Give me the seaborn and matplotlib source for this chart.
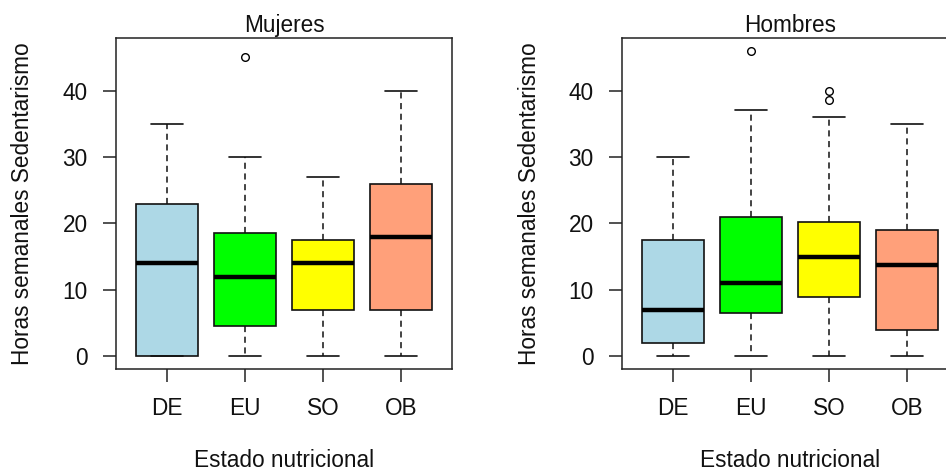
import matplotlib
matplotlib.use("Agg")
import matplotlib.pyplot as plt
import numpy as np
import pandas as pd
import seaborn as sns

# Nutritional status categories and box fills
categories = ["DE", "EU", "SO", "OB"]
colors = ["#ADD8E6", "#00FF00", "#FFFF00", "#FFA07A"]
yticks = [0, 10, 20, 30, 40]

# Weekly sedentary hours, five-number summaries per group -- women
muj_lo = [0, 0, 0, 0]
muj_q1 = [0, 4.5, 7, 7]
muj_med = [14, 12, 14, 18]
muj_q3 = [23, 18.5, 17.5, 26]
muj_hi = [35, 30, 27, 40]
muj_out = [[], [45], [], []]

# Weekly sedentary hours -- men
hom_lo = [0, 0, 0, 0]
hom_q1 = [2, 6.5, 9, 4]
hom_med = [7, 11, 15, 13.75]
hom_q3 = [17.5, 21, 20.2, 19]
hom_hi = [30, 37, 36, 35]
hom_out = [[], [46], [38.5, 40], []]


def long_table(lo, q1, med, q3, hi, out):
    """Observations whose linear-interpolated quartiles and Tukey whiskers
    reproduce the given summaries exactly."""
    rows = []
    for cat, a, b, c, d, e, o in zip(categories, lo, q1, med, q3, hi, out):
        k = len(o) + 1
        vals = [a] + [b] * k + [c] * k + [d] * k + [e] + list(o)
        rows += [(cat, v) for v in vals]
    return pd.DataFrame(rows, columns=["estado", "horas"])


sns.set_style("white")
plt.rcParams["font.family"] = ["Liberation Sans", "DejaVu Sans"]

W, H = 946, 474
fig = plt.figure(figsize=(W / 100, H / 100), dpi=100)

panels = [
    ("Mujeres", long_table(muj_lo, muj_q1, muj_med, muj_q3, muj_hi, muj_out), 116),
    ("Hombres", long_table(hom_lo, hom_q1, hom_med, hom_q3, hom_hi, hom_out), 622),
]

ax_w, ax_top, ax_bot = 336, 38, 369
for title, df, left in panels:
    ax = fig.add_axes([left / W, 1 - ax_bot / H, ax_w / W, (ax_bot - ax_top) / H])
    sns.boxplot(
        data=df, x="estado", y="horas", hue="estado", order=categories,
        hue_order=categories, palette=colors, saturation=1, legend=False,
        width=0.8, linecolor="#111111", linewidth=1.2, fliersize=5.5, ax=ax,
        whiskerprops=dict(linestyle=(0, (4, 3)), linewidth=1.1),
        medianprops=dict(linewidth=3.2, solid_capstyle="butt", color="black"),
        flierprops=dict(marker="o", markerfacecolor="none",
                        markeredgecolor="black", markeredgewidth=1.0),
    )
    ax.set_xlim(-0.654, 3.654)
    ax.set_ylim(-1.9, 47.9)
    ax.set_yticks(yticks)
    ax.set_yticklabels([str(t) for t in yticks])
    ax.set_xticks(range(len(categories)))
    ax.set_xticklabels(categories)
    ax.tick_params(axis="both", which="both", direction="out", length=9.4,
                   width=1.1, color="#222222", labelsize=16.3, pad=11,
                   labelcolor="#111111", left=True, bottom=True)
    ax.set_xlabel("")
    ax.set_ylabel("")
    for sp in ax.spines.values():
        sp.set_visible(True)
        sp.set_color("#222222")
        sp.set_linewidth(1.1)
    ax.set_title(title, fontsize=16.3, pad=4.3, color="#111111")

    cx = (left + ax_w / 2) / W
    fig.text(cx, 1 - 467 / H, "Estado nutricional", fontsize=16.3,
             ha="center", va="baseline", color="#111111")
    fig.text((left - 93) / W, 1 - (ax_top + ax_bot) / 2 / H,
             "Horas semanales Sedentarismo", fontsize=16.3, rotation=90,
             ha="center", va="center", color="#111111")

fig.savefig("out.png", dpi=100, facecolor="white")
